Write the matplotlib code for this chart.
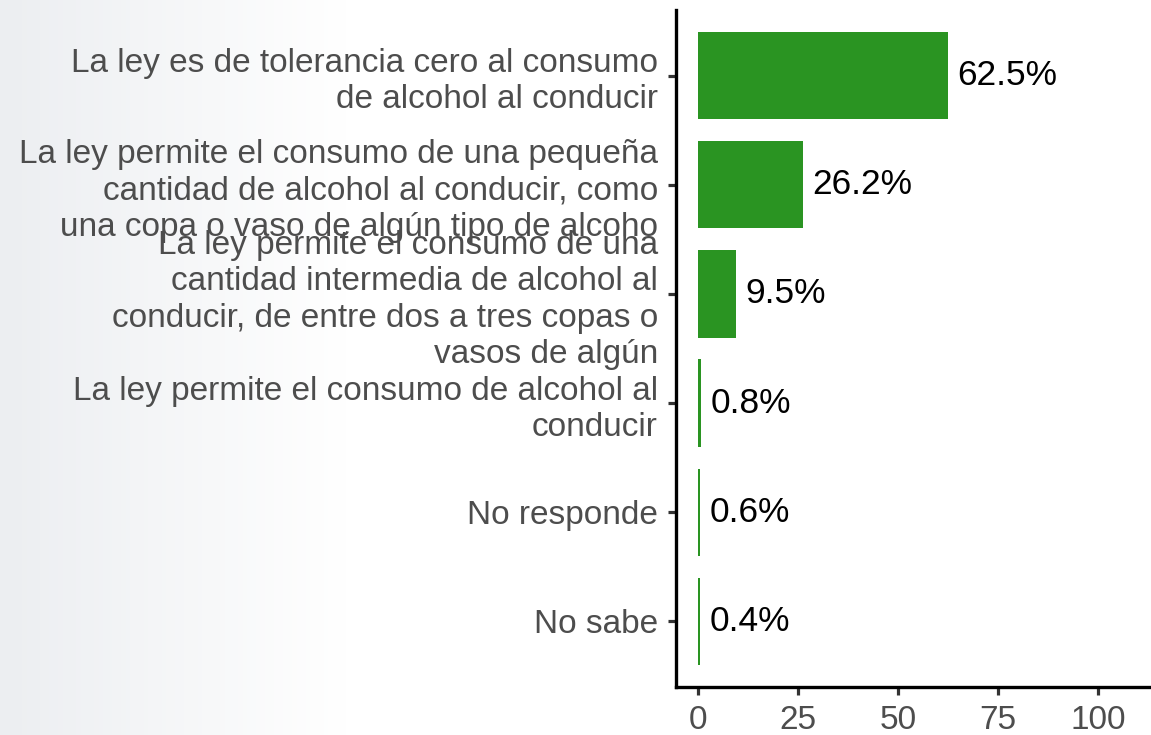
import numpy as np
import matplotlib
matplotlib.use("Agg")
import matplotlib.pyplot as plt
from matplotlib.colors import LinearSegmentedColormap

plt.rcParams['font.family'] = ['Liberation Sans', 'DejaVu Sans']

# datos
categorias = [
    "La ley es de tolerancia cero al consumo\nde alcohol al conducir",
    "La ley permite el consumo de una pequeña\ncantidad de alcohol al conducir, como\nuna copa o vaso de algún tipo de alcoho",
    "La ley permite el consumo de una\ncantidad intermedia de alcohol al\nconducir, de entre dos a tres copas o\nvasos de algún",
    "La ley permite el consumo de alcohol al\nconducir",
    "No responde",
    "No sabe",
]
porcentajes = [62.5, 26.2, 9.5, 0.8, 0.6, 0.4]
ticks_x = [0, 25, 50, 75, 100]

W, H = 1151, 735
fig = plt.figure(figsize=(W / 100, H / 100), dpi=100)

# fondo con degradado a la izquierda
bg = fig.add_axes([0, 0, 1, 1], zorder=-10)
cmap = LinearSegmentedColormap.from_list("fondo", [(0, "#eceef1"), (0.30, "#ffffff"), (1, "#ffffff")])
bg.imshow(np.linspace(0, 1, 256)[None, :], aspect="auto", cmap=cmap, extent=[0, 1, 0, 1])
bg.axis("off")

x0, x1 = -5.5, 115.5
px_unit = 4.0
left = 676 / W
bottom = (H - 687) / H
top = (H - 10) / H
width = (x1 - x0) * px_unit / W
ax = fig.add_axes([left, bottom, width, top - bottom])
ax.patch.set_alpha(0)

pos = np.arange(len(categorias))
ax.barh(pos, porcentajes, height=0.8, color="#2a9422")
for p, v in zip(pos, porcentajes):
    ax.annotate(f"{v}%", xy=(v, p), xytext=(7, 0), textcoords="offset points",
                va="center", ha="left", fontsize=25.5, color="black")

ax.set_xlim(x0, x1)
ax.set_ylim(len(categorias) - 0.4, -0.6)
ax.set_yticks(pos)
ax.set_yticklabels(categorias, fontsize=24, color="#4d4d4d", linespacing=1.22)
ax.set_xticks(ticks_x)
ax.set_xticklabels([str(t) for t in ticks_x], fontsize=24, color="#4d4d4d")
ax.tick_params(axis="both", length=6, width=2.3, color="#333333", pad=7)

for s in ["top", "right"]:
    ax.spines[s].set_visible(False)
for s in ["left", "bottom"]:
    ax.spines[s].set_linewidth(2.4)
    ax.spines[s].set_color("black")

fig.savefig("out.png", dpi=100)
